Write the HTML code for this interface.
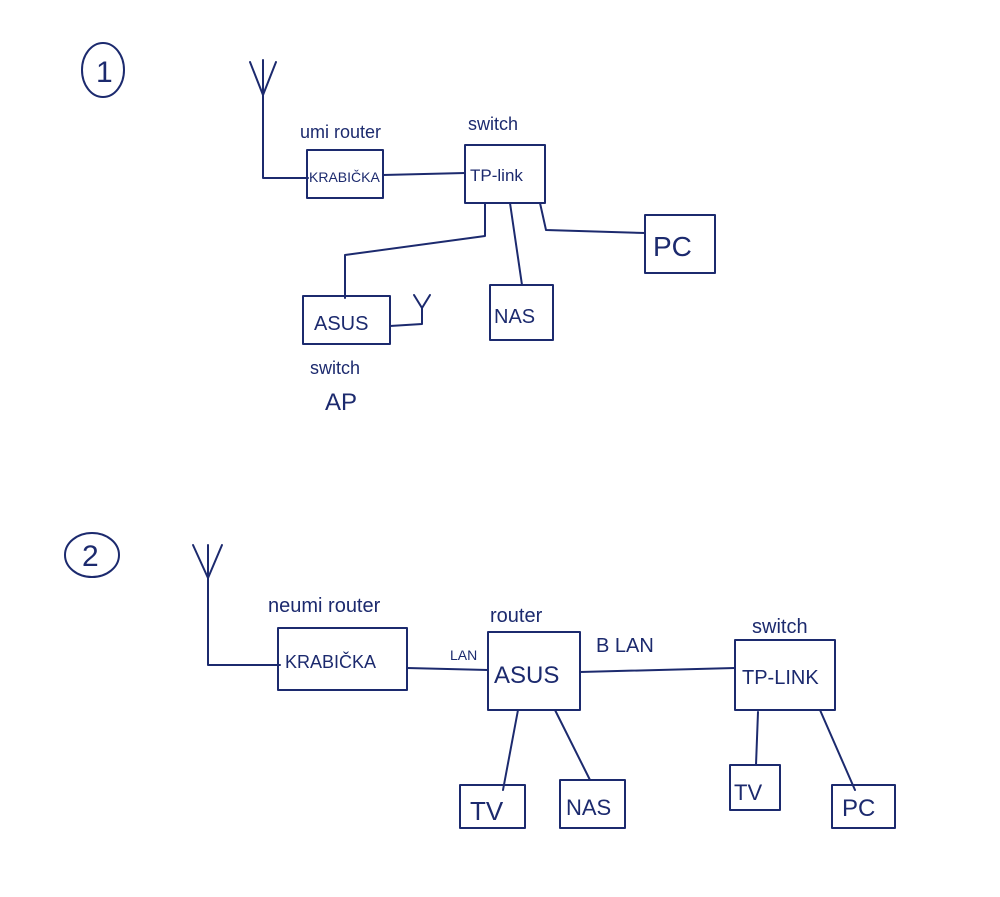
<!DOCTYPE html>
<html><head><meta charset="utf-8"><style>
html,body{margin:0;padding:0;background:#fff;}
svg{display:block}
text{font-family:"Liberation Sans",sans-serif;fill:#1c2a6e;}
</style></head><body>
<svg width="1000" height="897" viewBox="0 0 1000 897" xmlns="http://www.w3.org/2000/svg">
<rect width="1000" height="897" fill="#fff"/>
<g fill="none" stroke="#1c2a6e" stroke-width="2" stroke-linecap="round" stroke-linejoin="round">
<!-- Diagram 1 -->
<ellipse cx="103" cy="70" rx="21" ry="27"/>
<path d="M263 95 L263 178 L308 178"/>
<path d="M250 62 L263 95 L276 62 M263 95 L263 60"/>
<rect x="307" y="150" width="76" height="48"/>
<path d="M383 175 L465 173"/>
<rect x="465" y="145" width="80" height="58"/>
<path d="M485 203 L485 236 L345 255 L345 298"/>
<rect x="303" y="296" width="87" height="48"/>
<path d="M390 326 L422 324 L422 308 M422 308 L414 295 M422 308 L430 295"/>
<path d="M510 203 L522 285"/>
<rect x="490" y="285" width="63" height="55"/>
<path d="M540 203 L546 230 L645 233"/>
<rect x="645" y="215" width="70" height="58"/>
<!-- Diagram 2 -->
<ellipse cx="92" cy="555" rx="27" ry="22"/>
<path d="M208 578 L208 665 L280 665"/>
<path d="M193 545 L208 578 L222 545 M208 578 L208 545"/>
<rect x="278" y="628" width="129" height="62"/>
<path d="M407 668 L488 670"/>
<rect x="488" y="632" width="92" height="78"/>
<path d="M580 672 L735 668"/>
<rect x="735" y="640" width="100" height="70"/>
<path d="M518 710 L503 790 M555 710 L590 780"/>
<rect x="460" y="785" width="65" height="43"/>
<rect x="560" y="780" width="65" height="48"/>
<path d="M758 712 L756 765 M820 710 L855 790"/>
<rect x="730" y="765" width="50" height="45"/>
<rect x="832" y="785" width="63" height="43"/>
</g>
<text x="96" y="82" font-size="30">1</text>
<text x="300" y="138" font-size="18">umi router</text>
<text x="309" y="182" font-size="14">KRABIČKA</text>
<text x="468" y="130" font-size="18">switch</text>
<text x="470" y="181" font-size="17">TP-link</text>
<text x="314" y="330" font-size="20">ASUS</text>
<text x="310" y="374" font-size="18">switch</text>
<text x="325" y="410" font-size="24">AP</text>
<text x="494" y="323" font-size="20">NAS</text>
<text x="653" y="256" font-size="28">PC</text>
<text x="82" y="566" font-size="30">2</text>
<text x="268" y="612" font-size="20">neumi router</text>
<text x="285" y="668" font-size="18">KRABIČKA</text>
<text x="450" y="660" font-size="14">LAN</text>
<text x="490" y="622" font-size="20">router</text>
<text x="494" y="683" font-size="24">ASUS</text>
<text x="596" y="652" font-size="20">B LAN</text>
<text x="752" y="633" font-size="20">switch</text>
<text x="742" y="684" font-size="20">TP-LINK</text>
<text x="470" y="820" font-size="26">TV</text>
<text x="566" y="815" font-size="22">NAS</text>
<text x="734" y="800" font-size="22">TV</text>
<text x="842" y="816" font-size="24">PC</text>
</svg>
</body></html>
